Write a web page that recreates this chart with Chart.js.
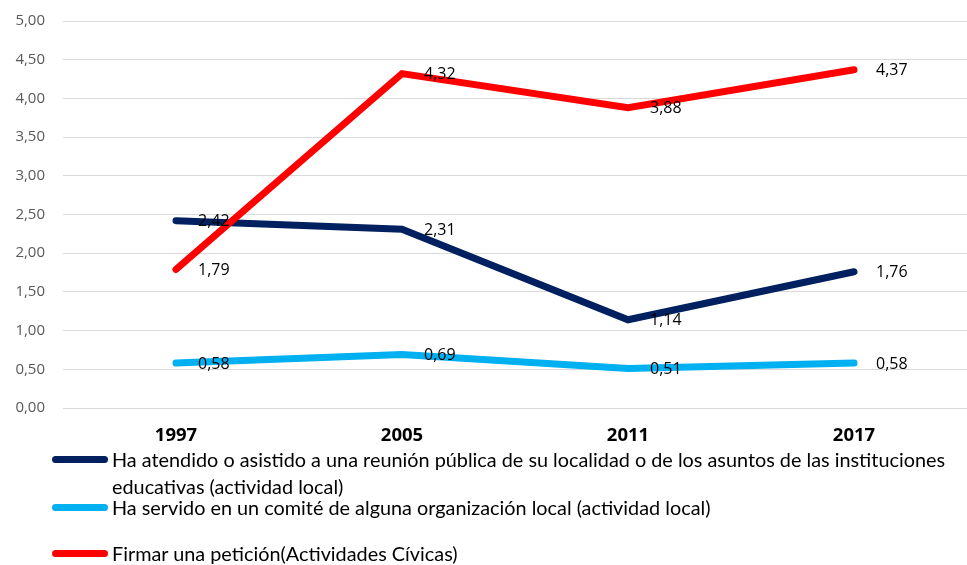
<!DOCTYPE html>
<html>
<head>
<meta charset="utf-8">
<script src="https://cdn.jsdelivr.net/npm/chart.js@4/dist/chart.umd.min.js"></script>
<style>
  html, body { margin: 0; padding: 0; background: #fff; }
  #wrap { position: relative; width: 967px; height: 565px; overflow: hidden; }
  canvas { position: absolute; left: 0; top: 0; }
  .leg { position: absolute; font-family: Lato, sans-serif; font-size: 18px; color: #000; white-space: nowrap; }
  .mk { position: absolute; height: 7px; border-radius: 4px; width: 56px; left: 52px; }
</style>
</head>
<body>
<div id="wrap">
  <canvas id="c" width="967" height="565"></canvas>
  <div class="mk" style="top:456px;background:#002060"></div>
  <div class="leg" style="left:112px;top:446px;line-height:27px"><span id="l1">Ha atendido o asistido a una reunión pública de su localidad o de los asuntos de las instituciones</span><br>educativas (actividad local)</div>
  <div class="mk" style="top:504px;background:#00B0F0"></div>
  <div class="leg" style="left:112px;top:496px;line-height:22px">Ha servido en un comité de alguna organización local (actividad local)</div>
  <div class="mk" style="top:550px;background:#FF0000"></div>
  <div class="leg" style="left:112px;top:542px;line-height:22px">Firmar una petición(Actividades Cívicas)</div>
</div>
<script>
const categories = ["1997", "2005", "2011", "2017"];
const seriesNames = [
  "Ha atendido o asistido a una reunión pública de su localidad o de los asuntos de las instituciones educativas (actividad local)",
  "Ha servido en un comité de alguna organización local (actividad local)",
  "Firmar una petición(Actividades Cívicas)"
];
const reunionValues = [2.42, 2.31, 1.14, 1.76];
const comiteValues = [0.58, 0.69, 0.51, 0.58];
const peticionValues = [1.79, 4.32, 3.88, 4.37];
const yTicks = [0, 0.5, 1, 1.5, 2, 2.5, 3, 3.5, 4, 4.5, 5];

const fmt = v => v.toFixed(2).replace('.', ',');

// fit legend font so the first legend line spans the same width as the reference
(function fitLegend() {
  const c = document.createElement('canvas').getContext('2d');
  c.font = '18px Lato';
  const w = c.measureText(document.getElementById('l1').textContent).width;
  const size = Math.max(14, Math.min(22, 18 * 833 / w));
  document.querySelectorAll('.leg').forEach(el => el.style.fontSize = size.toFixed(2) + 'px');
})();

const labelPlugin = {
  id: 'pointLabels',
  afterDatasetsDraw(chart) {
    const ctx = chart.ctx;
    ctx.save();
    ctx.font = '16px "Open Sans", sans-serif';
    ctx.fillStyle = '#000';
    ctx.textAlign = 'left';
    ctx.textBaseline = 'middle';
    chart.data.datasets.forEach((ds, i) => {
      const meta = chart.getDatasetMeta(i);
      meta.data.forEach((pt, j) => {
        ctx.fillText(fmt(ds.data[j]), pt.x + 22, pt.y + 1);
      });
    });
    ctx.restore();
  }
};

new Chart(document.getElementById('c'), {
  type: 'line',
  data: {
    labels: categories,
    datasets: [
      { label: seriesNames[0], data: reunionValues, borderColor: '#002060', backgroundColor: '#002060', order: 2 },
      { label: seriesNames[1], data: comiteValues, borderColor: '#00B0F0', backgroundColor: '#00B0F0', order: 1 },
      { label: seriesNames[2], data: peticionValues, borderColor: '#FF0000', backgroundColor: '#FF0000', order: 0 }
    ]
  },
  options: {
    responsive: false,
    animation: false,
    devicePixelRatio: 1,
    layout: { padding: { top: 21, right: 0, bottom: 120, left: 0 } },
    elements: {
      line: { borderWidth: 7, borderCapStyle: 'round', borderJoinStyle: 'miter', tension: 0, fill: false },
      point: { radius: 0, hoverRadius: 0 }
    },
    plugins: { legend: { display: false }, tooltip: { enabled: false } },
    scales: {
      x: {
        offset: true,
        grid: { display: false, drawTicks: false },
        border: { display: false },
        ticks: { color: '#000', font: { family: '"Open Sans", sans-serif', size: 18.5, weight: 'bold' }, padding: 17, maxRotation: 0 },
        afterFit(scale) { scale.height = 37; scale.paddingLeft = 0; scale.paddingRight = 0; }
      },
      y: {
        min: 0, max: 5,
        grid: { color: '#d9d9d9', lineWidth: 1, drawTicks: false },
        border: { display: false },
        afterBuildTicks(scale) { scale.ticks = yTicks.map(v => ({ value: v })); },
        ticks: { color: '#595959', font: { family: '"Open Sans", sans-serif', size: 15 }, padding: 18, callback: v => fmt(v) },
        afterFit(scale) { scale.width = 63; scale.paddingTop = 0; scale.paddingBottom = 0; }
      }
    }
  },
  plugins: [labelPlugin]
});
</script>
</body>
</html>
